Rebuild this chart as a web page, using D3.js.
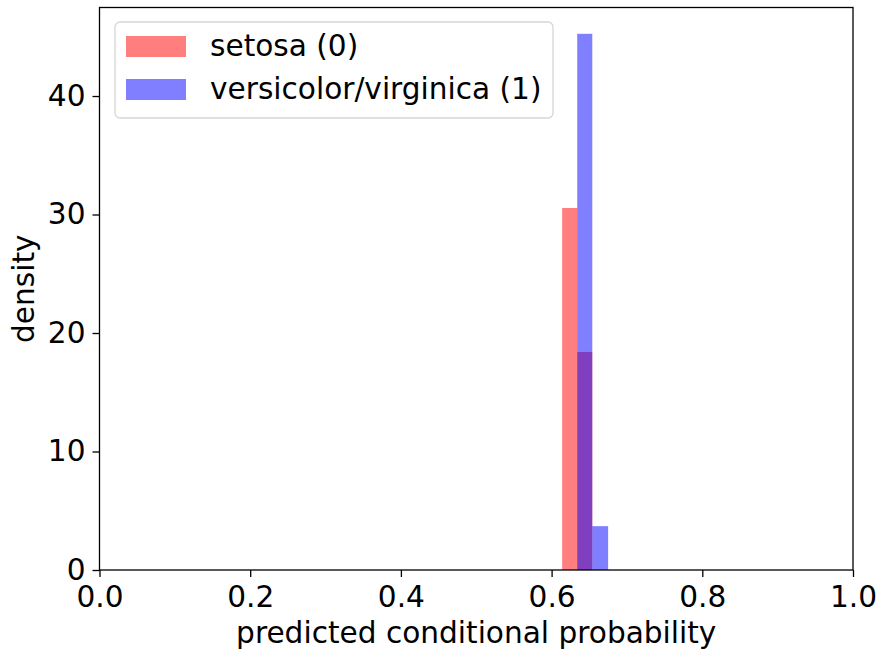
<!DOCTYPE html>
<html>
<head>
<meta charset="utf-8">
<script src="https://cdn.jsdelivr.net/npm/d3@7"></script>
<style>
  body { margin: 0; background: #fff; }
  svg text { font-family: "DejaVu Sans", sans-serif; fill: #000; }
</style>
</head>
<body>
<svg id="chart" width="881" height="651"></svg>
<script>
// histogram bins (left edge, right edge, density)
const setosaEdges = [0.614, 0.634, 0.654];
const setosaDensity = [30.55, 18.4];
const versiEdges = [0.634, 0.654, 0.675];
const versiDensity = [45.25, 3.7];

const xTicks = [0.0, 0.2, 0.4, 0.6, 0.8, 1.0];
const yTicks = [0, 10, 20, 30, 40];
const legendLabels = ["setosa (0)", "versicolor/virginica (1)"];
const colors = ["rgba(255,0,0,0.5)", "rgba(0,0,255,0.5)"];

const fontSize = 29.6;
const svg = d3.select("#chart");
const mLeft = 99.5, mRight = 853, mTop = 7.5, mBottom = 570;

const x = d3.scaleLinear().domain([0, 1]).range([mLeft, mRight]);
const y = d3.scaleLinear().domain([0, 47.47]).range([mBottom, mTop]);

function drawHist(edges, dens, color) {
  const bins = dens.map((d, i) => ({ x0: edges[i], x1: edges[i + 1], v: d }));
  svg.append("g").selectAll("rect")
    .data(bins)
    .enter()
    .append("rect")
    .attr("x", d => x(d.x0))
    .attr("width", d => x(d.x1) - x(d.x0))
    .attr("y", d => y(d.v))
    .attr("height", d => y(0) - y(d.v))
    .attr("fill", color);
}
drawHist(setosaEdges, setosaDensity, colors[0]);
drawHist(versiEdges, versiDensity, colors[1]);

// axes
const xAxis = d3.axisBottom(x).tickValues(xTicks).tickFormat(d3.format(".1f"))
  .tickSize(7).tickPadding(9);
const yAxis = d3.axisLeft(y).tickValues(yTicks).tickFormat(d3.format("d"))
  .tickSize(7).tickPadding(7);

const gx = svg.append("g").attr("transform", `translate(0,${mBottom})`).call(xAxis);
const gy = svg.append("g").attr("transform", `translate(${mLeft},0)`).call(yAxis);
[gx, gy].forEach(g => {
  g.select(".domain").remove();
  g.selectAll(".tick line").attr("stroke", "#000").attr("stroke-width", 1.3);
  g.selectAll(".tick text").attr("font-size", fontSize).attr("font-family", "DejaVu Sans");
});

// frame
svg.append("rect")
  .attr("x", mLeft).attr("y", mTop)
  .attr("width", mRight - mLeft).attr("height", mBottom - mTop)
  .attr("fill", "none").attr("stroke", "#000").attr("stroke-width", 1.3);

// axis labels
svg.append("text")
  .attr("x", (mLeft + mRight) / 2).attr("y", 643)
  .attr("text-anchor", "middle").attr("font-size", fontSize)
  .text("predicted conditional probability");
svg.append("text")
  .attr("transform", `translate(34,${(mTop + mBottom) / 2}) rotate(-90)`)
  .attr("text-anchor", "middle").attr("font-size", fontSize)
  .text("density");

// legend
const lg = svg.append("g");
lg.append("rect")
  .attr("x", 115).attr("y", 22).attr("width", 438).attr("height", 96)
  .attr("rx", 5).attr("fill", "rgba(255,255,255,0.8)")
  .attr("stroke", "#d6d6d6").attr("stroke-width", 1.3);
legendLabels.forEach((label, i) => {
  const yy = 36 + i * 43;
  lg.append("rect").attr("x", 126).attr("y", yy).attr("width", 60).attr("height", 21)
    .attr("fill", colors[i]);
  lg.append("text").attr("x", 210).attr("y", yy + 20).attr("font-size", fontSize).text(label);
});
</script>
</body>
</html>
